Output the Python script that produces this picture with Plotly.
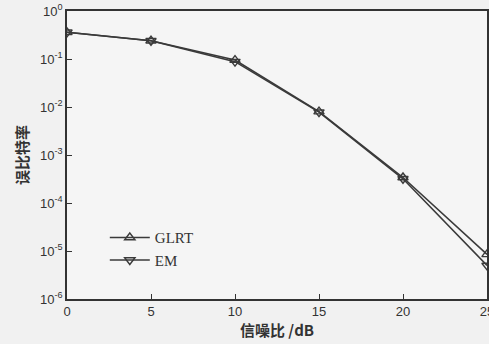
import plotly.graph_objects as go

snr = [0, 5, 10, 15, 20, 25]
glrt = [0.36, 0.24, 0.095, 0.0080, 3.4e-4, 8.5e-6]
em = [0.36, 0.24, 0.088, 0.0078, 3.2e-4, 5.0e-6]
ytick_vals = [1e-6, 1e-5, 1e-4, 1e-3, 1e-2, 1e-1, 1e0]
ytick_text = ["10<sup>-6</sup>", "10<sup>-5</sup>", "10<sup>-4</sup>", "10<sup>-3</sup>",
              "10<sup>-2</sup>", "10<sup>-1</sup>", "10<sup>0</sup>"]
xtick_vals = [0, 5, 10, 15, 20, 25]

line_col = "#3a3a3a"
fig = go.Figure()
fig.add_trace(go.Scatter(x=snr, y=glrt, mode="lines+markers", name="GLRT",
                         line=dict(color=line_col, width=1.6),
                         marker=dict(symbol="triangle-up-open", size=9, color=line_col,
                                     line=dict(width=1.4, color=line_col))))
fig.add_trace(go.Scatter(x=snr, y=em, mode="lines+markers", name="EM",
                         line=dict(color=line_col, width=1.6),
                         marker=dict(symbol="triangle-down-open", size=9, color=line_col,
                                     line=dict(width=1.4, color=line_col))))

axis_common = dict(showline=True, linecolor="#333333", linewidth=1.6, mirror=True,
                   ticks="inside", ticklen=5, tickcolor="#333333", showgrid=False,
                   zeroline=False, automargin=False, ticklabeloverflow="allow",
                   tickfont=dict(family="Liberation Sans, Arial", size=13, color="#333333"))
fig.update_xaxes(range=[0, 25], tickvals=xtick_vals,
                 title=dict(text="信噪比 /dB", standoff=0,
                            font=dict(family="Noto Sans CJK SC", size=15, color="#333333",
                                      weight="bold")),
                 **axis_common)
fig.update_yaxes(type="log", range=[-6, 0], tickvals=ytick_vals, ticktext=ytick_text,
                 title=dict(text="误比特率", standoff=8,
                            font=dict(family="Noto Sans CJK SC", size=15, color="#333333",
                                      weight="bold")),
                 **axis_common)
fig.update_layout(width=489, height=344,
                  margin=dict(l=67, r=2, t=11, b=45, autoexpand=False),
                  paper_bgcolor="#f1f1f1", plot_bgcolor="#f5f5f5",
                  showlegend=True,
                  legend=dict(x=0.09, y=0.27, xanchor="left", yanchor="top",
                              bgcolor="rgba(0,0,0,0)",
                              font=dict(family="Liberation Serif, Times New Roman", size=15,
                                        color="#333333"),
                              itemwidth=40, tracegroupgap=0))
fig.write_html("out.html", config={"displayModeBar": False},
               post_script="document.body.style.margin='0';document.body.style.overflow='hidden';")
